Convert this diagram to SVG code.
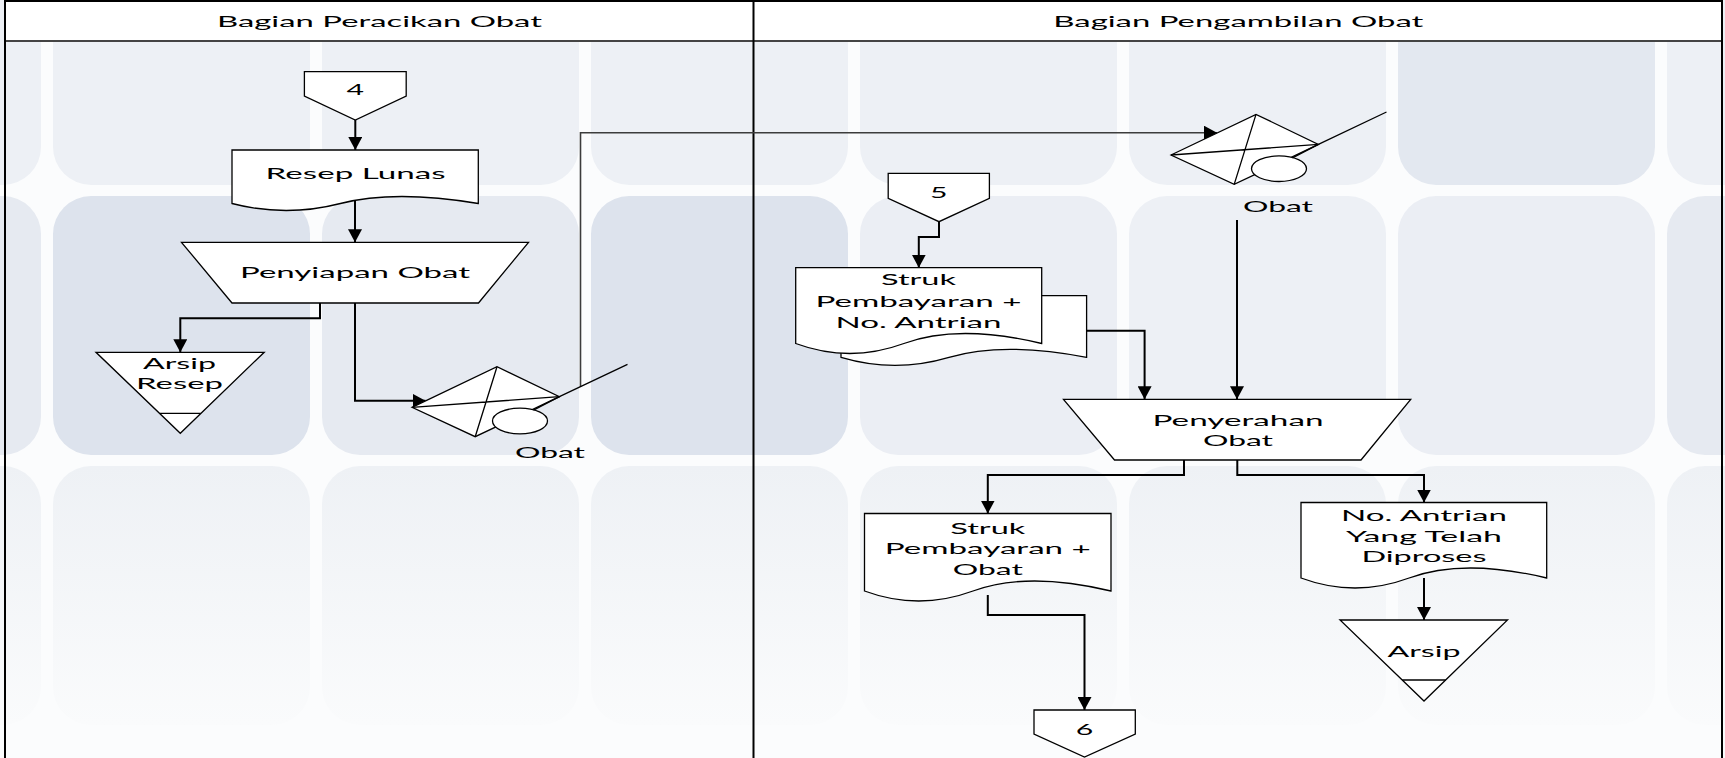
<svg xmlns="http://www.w3.org/2000/svg" width="1725" height="758" viewBox="0 0 1725 758">
<style>
.bg{fill:#fbfcfd}
.t0{fill:#edf0f5}
.tA{fill:#dde3ed}
.tB{fill:#e6eaf1}
.tC{fill:#ebeef4}
.tD{fill:#e3e8f0}
.sh{fill:#fff;stroke:#000;stroke-width:1.3;stroke-linejoin:miter}
.ln{fill:none;stroke:#000;stroke-width:1.3}
.cn{fill:none;stroke:#000;stroke-width:2}
.cg{fill:none;stroke:#3c3c3c;stroke-width:1.6}
.tx{font-family:Lato,"Liberation Sans",sans-serif;font-size:16px;text-anchor:middle;fill:#000}
</style>
<defs>
<marker id="ar" viewBox="0 0 13 14" refX="13" refY="7" markerWidth="13" markerHeight="14" markerUnits="userSpaceOnUse" orient="auto">
<path d="M0,0 L13,7 L0,14 Z" fill="#000"/>
</marker>
<linearGradient id="fade" x1="0" y1="0" x2="0" y2="1">
<stop offset="0" stop-color="#eef1f5"/>
<stop offset="1" stop-color="#fafbfc"/>
</linearGradient>
<g id="store">
<path class="sh" d="M0,0 L85,-40.6 L147.4,-10.6 L63.2,29.4 Z"/>
<path class="ln" d="M0,0 L147.4,-10.6 M85,-40.6 L63.2,29.4"/>
<ellipse class="sh" cx="108" cy="13.7" rx="27.5" ry="12.8"/>
<path class="ln" d="M121.5,2.8 L147.4,-10.6 L215.5,-43"/>
</g>
</defs>

<g id="background">
<rect class="bg" x="0" y="0" width="1725" height="758"/>
<rect class="t0" x="-216" y="-74" width="257" height="259" rx="38"/>
<rect class="t0" x="53" y="-74" width="257" height="259" rx="38"/>
<rect class="t0" x="322" y="-74" width="257" height="259" rx="38"/>
<rect class="t0" x="591" y="-74" width="257" height="259" rx="38"/>
<rect class="t0" x="860" y="-74" width="257" height="259" rx="38"/>
<rect class="t0" x="1129" y="-74" width="257" height="259" rx="38"/>
<rect class="tD" x="1398" y="-74" width="257" height="259" rx="38"/>
<rect class="t0" x="1667" y="-74" width="257" height="259" rx="38"/>
<rect class="tB" x="-216" y="196" width="257" height="259" rx="38"/>
<rect class="tA" x="53" y="196" width="257" height="259" rx="38"/>
<rect class="tB" x="322" y="196" width="257" height="259" rx="38"/>
<rect class="tA" x="591" y="196" width="257" height="259" rx="38"/>
<rect class="tC" x="860" y="196" width="257" height="259" rx="38"/>
<rect class="t0" x="1129" y="196" width="257" height="259" rx="38"/>
<rect class="tC" x="1398" y="196" width="257" height="259" rx="38"/>
<rect class="tB" x="1667" y="196" width="257" height="259" rx="38"/>
<rect fill="url(#fade)" x="-216" y="466" width="257" height="259" rx="38"/>
<rect fill="url(#fade)" x="53" y="466" width="257" height="259" rx="38"/>
<rect fill="url(#fade)" x="322" y="466" width="257" height="259" rx="38"/>
<rect fill="url(#fade)" x="591" y="466" width="257" height="259" rx="38"/>
<rect fill="url(#fade)" x="860" y="466" width="257" height="259" rx="38"/>
<rect fill="url(#fade)" x="1129" y="466" width="257" height="259" rx="38"/>
<rect fill="url(#fade)" x="1398" y="466" width="257" height="259" rx="38"/>
<rect fill="url(#fade)" x="1667" y="466" width="257" height="259" rx="38"/>
</g>

<g id="lanes">
<rect x="5" y="1" width="1717" height="40" fill="#fff"/>
<line x1="5" y1="41" x2="1722" y2="41" stroke="#444" stroke-width="2"/>
<rect x="5" y="1" width="1717" height="762" fill="none" stroke="#000" stroke-width="2"/>
<line x1="753.5" y1="1" x2="753.5" y2="758" stroke="#000" stroke-width="2"/>
<text class="tx" x="379.5" y="26.5" textLength="325" lengthAdjust="spacingAndGlyphs">Bagian Peracikan Obat</text>
<text class="tx" x="1238.3" y="26.5" textLength="370" lengthAdjust="spacingAndGlyphs">Bagian Pengambilan Obat</text>
</g>

<g id="connectors">
<path class="cn" d="M355.3,120 V150" marker-end="url(#ar)"/>
<path class="cn" d="M355,200 V242.3" marker-end="url(#ar)"/>
<path class="cn" d="M320,303 V318.3 H180.3 V352.3" marker-end="url(#ar)"/>
<path class="cn" d="M355,303 V400.7 H425.5" marker-end="url(#ar)"/>
<path class="cg" d="M580.5,387 V132.7 H1217" marker-end="url(#ar)"/>
<path class="cn" d="M939,221.7 V237 H918.8 V267.7" marker-end="url(#ar)"/>
<path class="cn" d="M1086,330.7 H1144.6 V399.3" marker-end="url(#ar)"/>
<path class="cn" d="M1237,220 V399.3" marker-end="url(#ar)"/>
<path class="cn" d="M1184,460 V475 H987.8 V513.5" marker-end="url(#ar)"/>
<path class="cn" d="M1237.3,460 V475 H1424 V502.5" marker-end="url(#ar)"/>
<path class="cn" d="M987.8,595 V615 H1084.5 V710" marker-end="url(#ar)"/>
<path class="cn" d="M1424,578 V620" marker-end="url(#ar)"/>
</g>

<g id="conn4">
<path class="sh" d="M304.4,71.7 H406.2 V96 L355.3,120 L304.4,96 Z"/>
<text class="tx" x="355.3" y="95.3" textLength="17.5" lengthAdjust="spacingAndGlyphs">4</text>
</g>

<g id="resepLunas">
<path class="sh" d="M232,150 V203.5 Q286.2,217.5 340.4,203.5 T478.3,203.5 V150 Z"/>
<text class="tx" x="355.6" y="179" textLength="180" lengthAdjust="spacingAndGlyphs">Resep Lunas</text>
</g>

<g id="penyiapanObat">
<path class="sh" d="M181.5,242.3 H528.5 L478.5,303 H232 Z"/>
<text class="tx" x="355" y="278.2" textLength="230" lengthAdjust="spacingAndGlyphs">Penyiapan Obat</text>
</g>

<g id="arsipResep">
<path class="sh" d="M96,352.3 H264.2 L180.3,433.3 Z"/>
<line class="ln" x1="160" y1="413.3" x2="200.6" y2="413.3"/>
<text class="tx" x="179.5" y="368.5" textLength="73" lengthAdjust="spacingAndGlyphs">Arsip</text>
<text class="tx" x="179.5" y="388.5" textLength="87" lengthAdjust="spacingAndGlyphs">Resep</text>
</g>

<g id="obatLeft">
<use href="#store" transform="translate(412,407.3)"/>
<text class="tx" x="550" y="457.5" textLength="70" lengthAdjust="spacingAndGlyphs">Obat</text>
</g>

<g id="obatRight">
<use href="#store" transform="translate(1171,155)"/>
<text class="tx" x="1278" y="211.5" textLength="70" lengthAdjust="spacingAndGlyphs">Obat</text>
</g>

<g id="conn5">
<path class="sh" d="M888.2,173.3 H989.4 V198.3 L939,221.7 L888.2,198.3 Z"/>
<text class="tx" x="938.8" y="197.5" textLength="17.5" lengthAdjust="spacingAndGlyphs">5</text>
</g>

<g id="strukAntrian">
<path class="sh" d="M841,295.7 V357.3 Q895,373.3 949,357.3 T1086.6,357.3 V295.7 Z"/>
<path class="sh" d="M795.7,267.7 V343.5 Q849.8,363.5 903.9,343.5 T1041.7,343.5 V267.7 Z"/>
<text class="tx" x="918.5" y="285" textLength="75" lengthAdjust="spacingAndGlyphs">Struk</text>
<text class="tx" x="918.5" y="306.5" textLength="206" lengthAdjust="spacingAndGlyphs">Pembayaran +</text>
<text class="tx" x="918.5" y="327.5" textLength="166" lengthAdjust="spacingAndGlyphs">No. Antrian</text>
</g>

<g id="penyerahanObat">
<path class="sh" d="M1063.5,399.3 H1410.7 L1361,460 H1114.5 Z"/>
<text class="tx" x="1238" y="426" textLength="171" lengthAdjust="spacingAndGlyphs">Penyerahan</text>
<text class="tx" x="1238" y="445.5" textLength="70" lengthAdjust="spacingAndGlyphs">Obat</text>
</g>

<g id="strukObat">
<path class="sh" d="M864.5,513.5 V591 Q918.7,611 973,591 T1111,591 V513.5 Z"/>
<text class="tx" x="987.8" y="534.3" textLength="75" lengthAdjust="spacingAndGlyphs">Struk</text>
<text class="tx" x="987.8" y="554.3" textLength="206" lengthAdjust="spacingAndGlyphs">Pembayaran +</text>
<text class="tx" x="987.8" y="575" textLength="70" lengthAdjust="spacingAndGlyphs">Obat</text>
</g>

<g id="noAntrian">
<path class="sh" d="M1301,502.5 V578 Q1355,598 1409.1,578 T1546.7,578 V502.5 Z"/>
<text class="tx" x="1424" y="521" textLength="166" lengthAdjust="spacingAndGlyphs">No. Antrian</text>
<text class="tx" x="1424" y="542" textLength="156" lengthAdjust="spacingAndGlyphs">Yang Telah</text>
<text class="tx" x="1424" y="562" textLength="125" lengthAdjust="spacingAndGlyphs">Diproses</text>
</g>

<g id="arsip">
<path class="sh" d="M1340,620 H1507.5 L1424,701 Z"/>
<line class="ln" x1="1402.3" y1="680" x2="1445.7" y2="680"/>
<text class="tx" x="1424" y="656.5" textLength="73" lengthAdjust="spacingAndGlyphs">Arsip</text>
</g>

<g id="conn6">
<path class="sh" d="M1034,710 H1135.3 V734 L1084.5,757 L1034,734 Z"/>
<text class="tx" x="1084.6" y="734.5" textLength="17.5" lengthAdjust="spacingAndGlyphs">6</text>
</g>
</svg>
